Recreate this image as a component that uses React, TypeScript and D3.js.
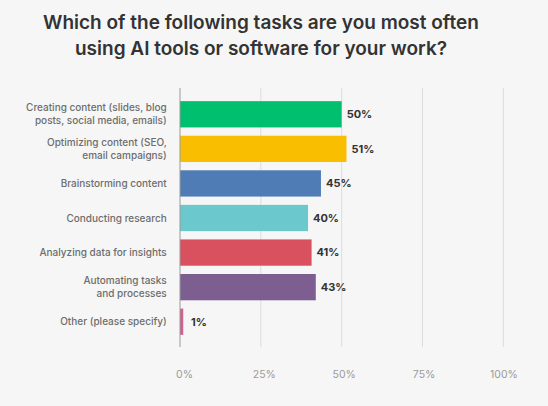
import React from "react";
import * as d3 from "d3";

const titleLines = [
  "Which of the following tasks are you most often",
  "using AI tools or software for your work?",
];
const categories = [
  ["Creating content (slides, blog", "posts, social media, emails)"],
  ["Optimizing content (SEO,", "email campaigns)"],
  ["Brainstorming content"],
  ["Conducting research"],
  ["Analyzing data for insights"],
  ["Automating tasks", "and processes"],
  ["Other (please specify)"],
];
const values = [50, 51.5, 43.6, 39.6, 40.7, 42, 1];
const valueLabels = ["50%", "51%", "45%", "40%", "41%", "43%", "1%"];
const colors = ["#00bf6f", "#f9be00", "#507cb6", "#6bc8cd", "#d9505e", "#7d5e90", "#d25f90"];
const ticks = [0, 25, 50, 75, 100];

const W = 548;
const H = 406;
const FONT = "Inter, 'Open Sans', sans-serif";

export default function App() {
  const x = d3.scaleLinear().domain([0, 100]).range([180, 503.3]);
  const y = d3
    .scaleBand<number>()
    .domain(d3.range(categories.length))
    .range([97, 339])
    .paddingInner(0.24)
    .paddingOuter(0.12);
  const bw = y.bandwidth();

  return (
    <svg
      width={W}
      height={H}
      style={{ position: "fixed", left: 0, top: 0, background: "#f6f6f6" }}
      fontFamily={FONT}
    >
      <rect width={W} height={H} fill="#f6f6f6" />
      <g>
        {titleLines.map((t, i) => (
          <text
            key={i}
            x={261}
            y={29 + i * 26}
            textAnchor="middle"
            fontSize={19}
            fontWeight={600}
            fill="#333333"
          >
            {t}
          </text>
        ))}
      </g>
      <g>
        {ticks.slice(1).map((t) => (
          <line key={t} x1={x(t)} x2={x(t)} y1={88} y2={347} stroke="#dcdcdc" strokeWidth={1} />
        ))}
      </g>
      <g>
        {values.map((v, i) => (
          <rect key={i} x={x(0)} y={y(i)} width={x(v) - x(0)} height={bw} fill={colors[i]} />
        ))}
      </g>
      <line x1={x(0)} x2={x(0)} y1={88} y2={347} stroke="#9a9a9a" strokeWidth={1} />
      <g>
        {values.map((v, i) => (
          <text
            key={i}
            x={Math.max(x(v) + 5, x(0) + 11)}
            y={(y(i) as number) + bw / 2}
            dy="0.35em"
            fontSize={11}
            fontWeight={700}
            fill="#333333"
          >
            {valueLabels[i]}
          </text>
        ))}
      </g>
      <g>
        {categories.map((lines, i) => {
          const cy = (y(i) as number) + bw / 2;
          const lh = 13.3;
          const start = cy - ((lines.length - 1) * lh) / 2;
          return (
            <text key={i} textAnchor="end" fontSize={10} fontWeight={500} fill="#6d6d6d">
              {lines.map((l, j) => (
                <tspan key={j} x={166.7} y={start + j * lh} dy="0.35em">
                  {l}
                </tspan>
              ))}
            </text>
          );
        })}
      </g>
      <g>
        {ticks.map((t) => (
          <text
            key={t}
            x={x(t) + 4.5 - t * 0.038}
            y={374.3}
            dy="0.35em"
            textAnchor="middle"
            fontSize={10.5}
            fill="#9a9a9a"
          >
            {t}%
          </text>
        ))}
      </g>
    </svg>
  );
}
